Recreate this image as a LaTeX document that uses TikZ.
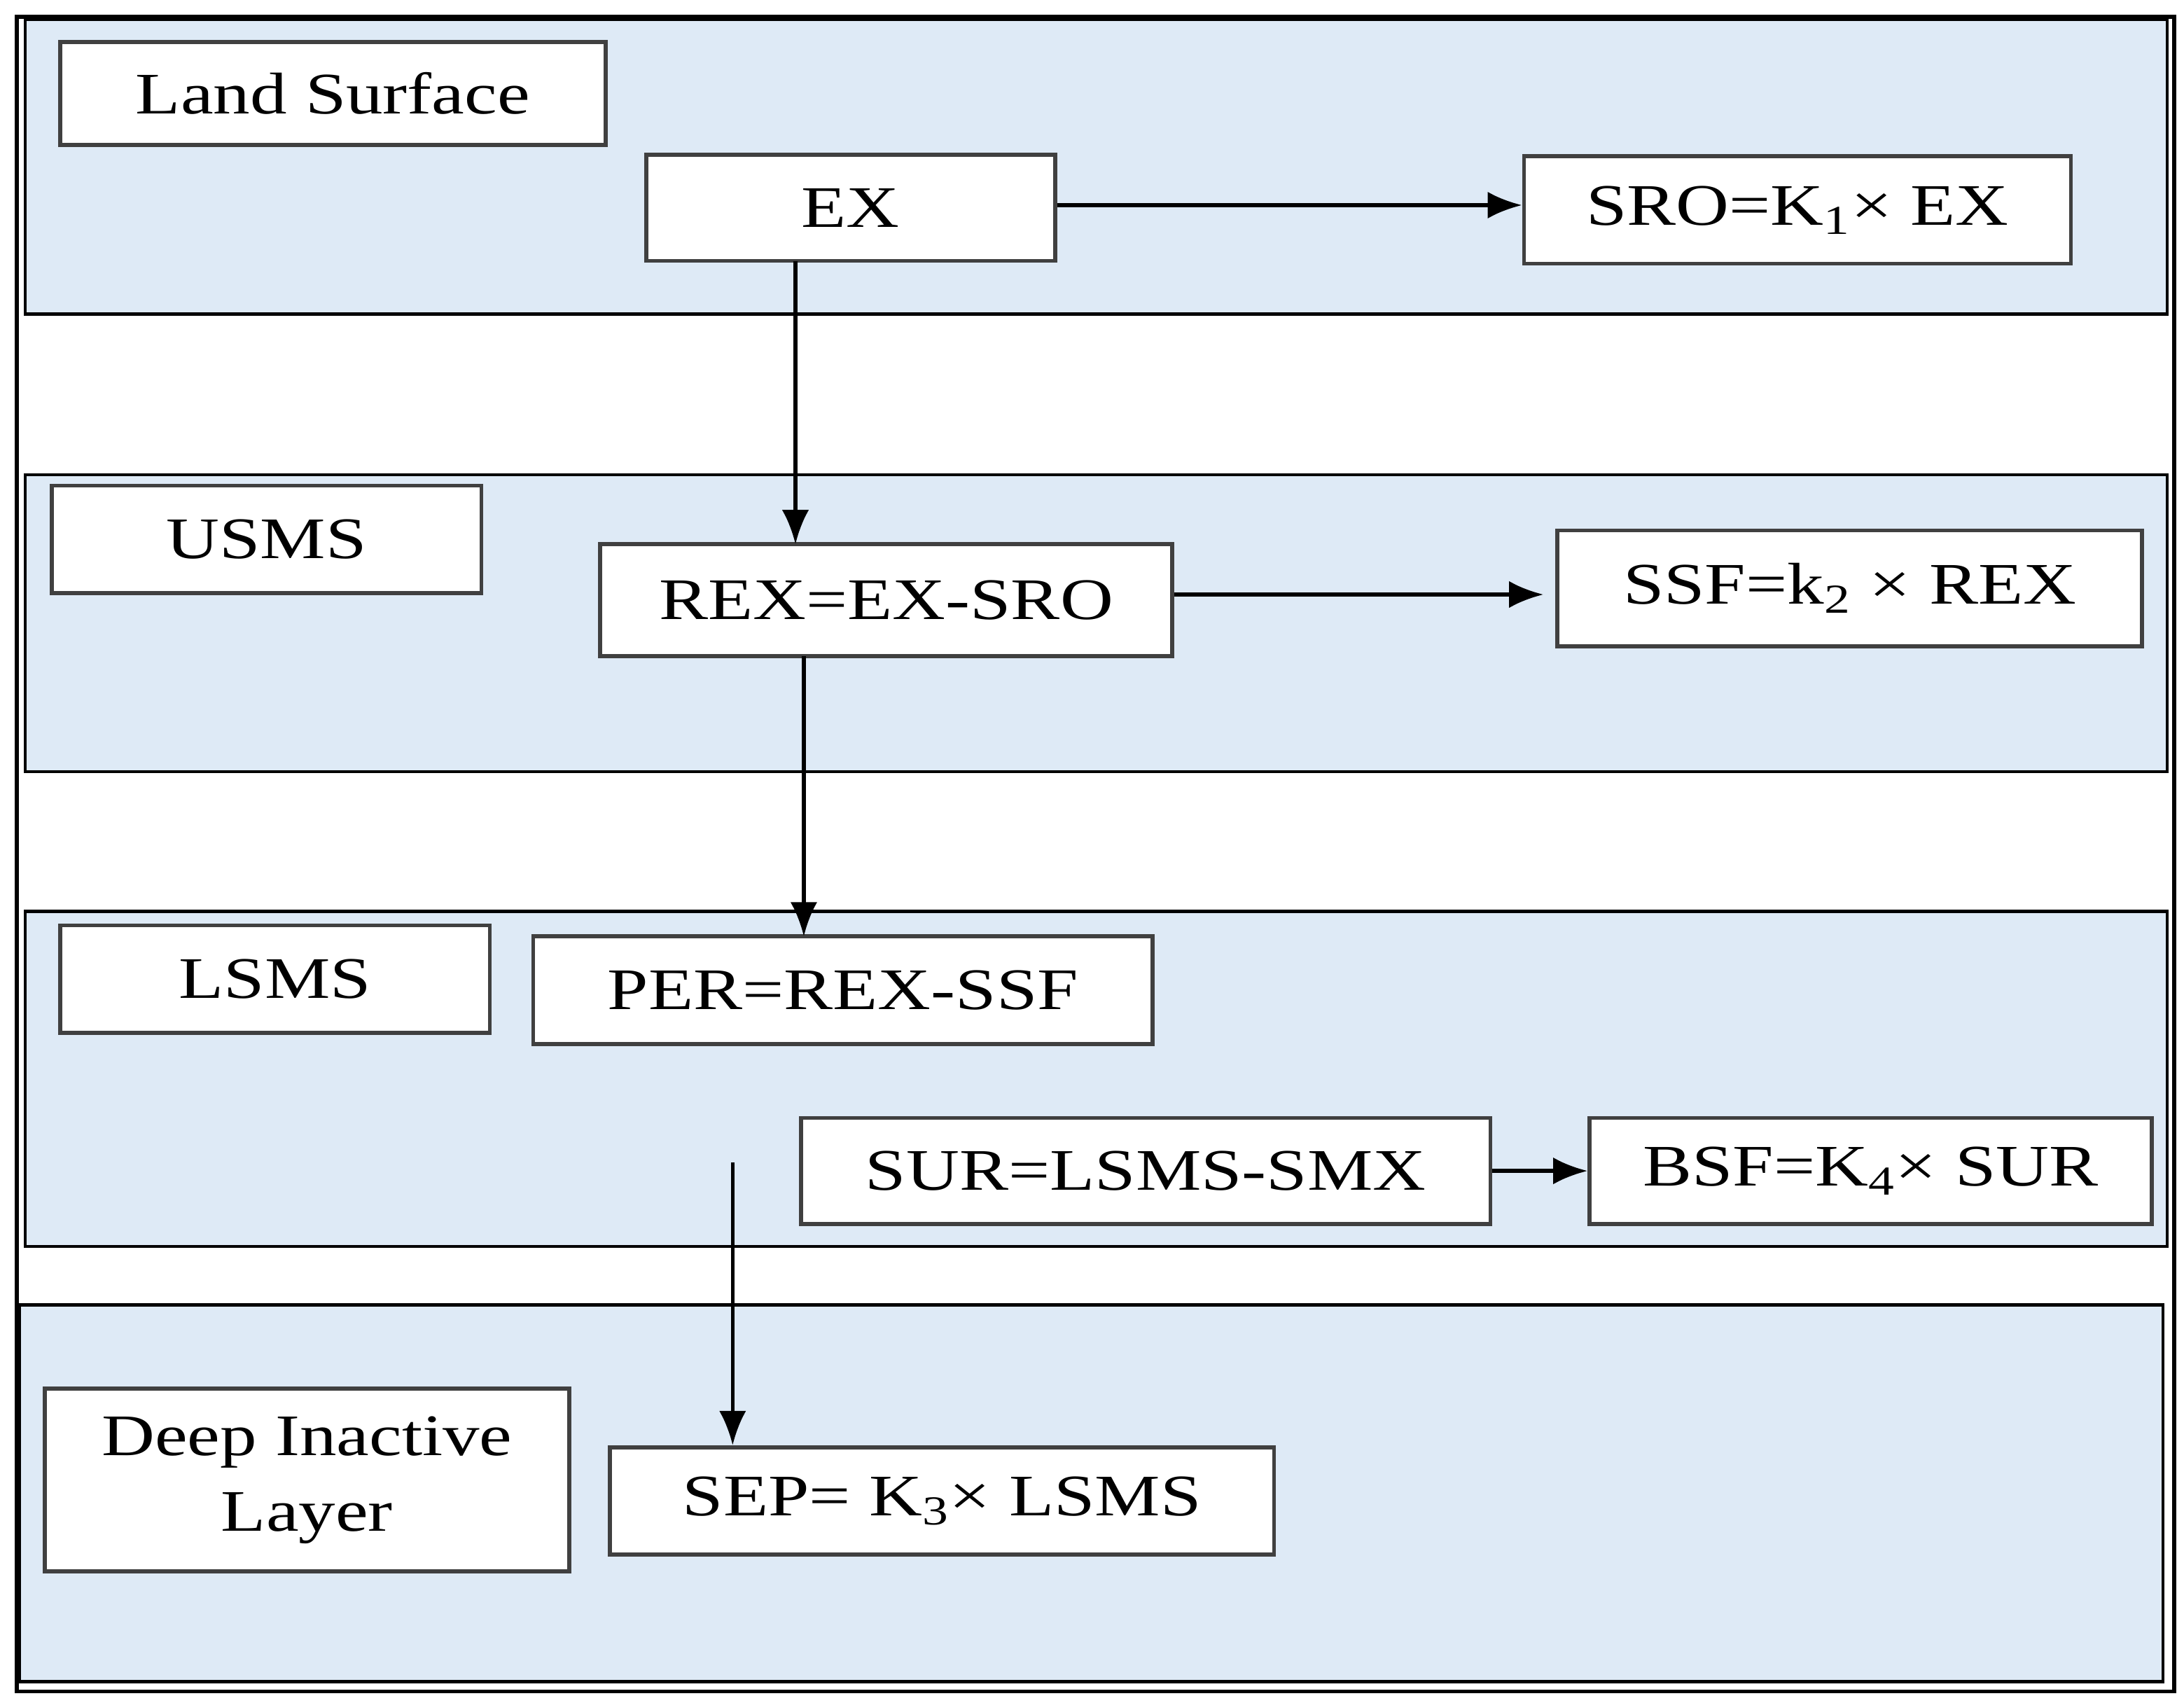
\documentclass[tikz,border=0pt]{standalone}
\usepackage{fontspec}
\setmainfont{Liberation Serif}[FakeStretch=1.25]
\usetikzlibrary{arrows.meta}
\definecolor{band}{RGB}{222,234,246}
\begin{document}
\begin{tikzpicture}[x=0.02cm,y=-0.02cm,
 bandst/.style={draw=black,line width=1.2pt,fill=band},
 bx/.style={draw=black!75,line width=1.6pt,fill=white,font=\fontsize{24}{31}\selectfont,inner sep=0pt,align=center},
 arr/.style={line width=1.6pt,-{Latex[length=14pt,width=11pt]}}]
\useasboundingbox (0,0) rectangle (1565,1220);
\draw[line width=1.6pt] (12,12) rectangle (1558,1212);
\draw[bandst] (18,14) rectangle (1553,225);
\draw[bandst] (18,340) rectangle (1553,553);
\draw[bandst] (18,653) rectangle (1553,893);
\draw[bandst] (14,935) rectangle (1550,1205);
\newcommand\bxat[6]{\node[bx,minimum width={(#4-#2)*0.02cm},minimum height={(#5-#3)*0.02cm}] (#1) at ({(#2+#4)/2},{(#3+#5)/2}) {#6};}
\bxat{land}{43}{30}{434}{104}{Land Surface}
\bxat{ex}{463}{111}{756}{187}{EX}
\bxat{sro}{1092}{112}{1484}{189}{SRO=K\textsubscript{1}× EX}
\bxat{usms}{37}{348}{345}{425}{USMS}
\bxat{rex}{430}{390}{840}{470}{REX=EX-SRO}
\bxat{ssf}{1116}{380}{1535}{463}{SSF=k\textsubscript{2} × REX}
\bxat{lsms}{43}{663}{351}{740}{LSMS}
\bxat{per}{382}{671}{826}{748}{PER=REX-SSF}
\bxat{sur}{574}{801}{1068}{877}{SUR=LSMS-SMX}
\bxat{bsf}{1139}{801}{1542}{877}{BSF=K\textsubscript{4}× SUR}
\bxat{deep}{32}{995}{408}{1126}{Deep Inactive\\Layer}
\bxat{sep}{437}{1037}{913}{1114}{SEP= K\textsubscript{3}× LSMS}
\coordinate (s) at (525,833);
\draw[arr] (ex.east |- 0,147) -- (sro.west |- 0,147);
\draw[arr] (570,187) -- (570,390);
\draw[arr] (rex.east |- 0,426) -- (1106,426);
\draw[arr] (576,470) -- (576,671);
\draw[arr] (s) -- (s |- sep.north);
\draw[arr] (sur.east) -- (bsf.west);
\end{tikzpicture}
\end{document}
